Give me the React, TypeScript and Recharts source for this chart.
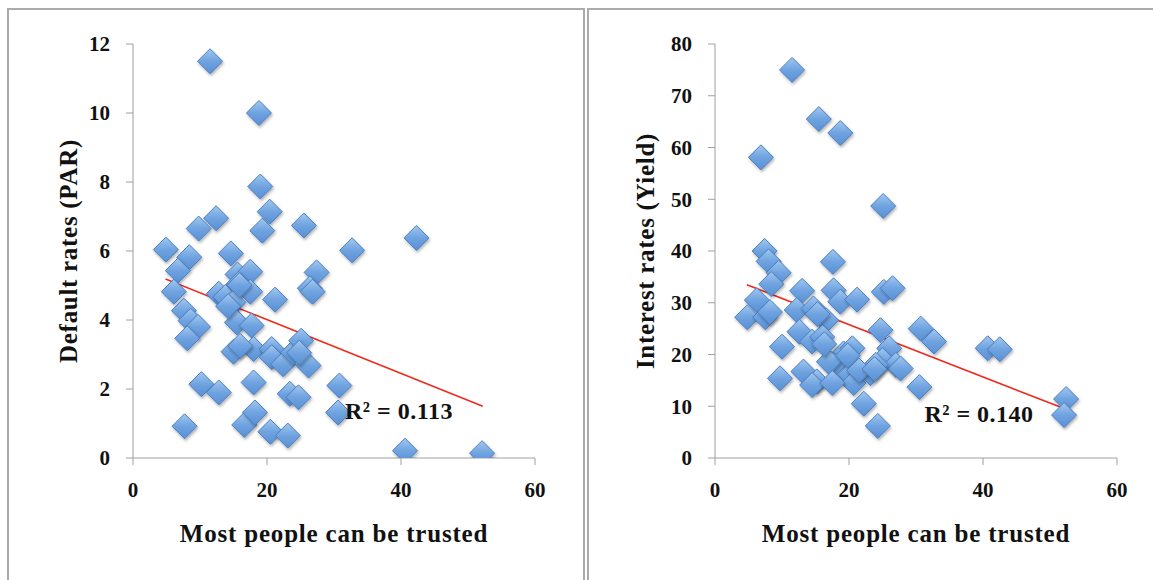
import React from 'react';
import { ScatterChart, Scatter, XAxis, YAxis, ReferenceLine, ReferenceDot } from 'recharts';

// ---- Left panel: trust vs default rates (PAR)
const parTrust = [11.5, 18.8, 19.0, 20.4, 19.3, 12.4, 9.8, 25.5, 4.9, 8.4, 14.6, 32.7, 42.3, 6.7, 27.4, 15.6, 17.5, 6.1, 15.75, 26.4, 26.8, 12.8, 13.8, 17.5, 21.2, 15.0, 7.6, 8.6, 9.7, 15.5, 17.7, 8.1, 15.0, 18.0, 20.7, 20.7, 22.4, 23.9, 25.1, 26.2, 24.8, 10.2, 12.8, 18.0, 30.8, 23.4, 24.7, 30.6, 7.7, 16.6, 18.2, 20.5, 23.1, 40.6, 52.1, 15.9, 14.2, 16.0];
const parValues = [11.5, 10.0, 7.87, 7.14, 6.59, 6.95, 6.65, 6.74, 6.04, 5.82, 5.93, 6.02, 6.38, 5.43, 5.38, 5.32, 5.4, 4.82, 5.04, 4.92, 4.82, 4.76, 4.67, 4.82, 4.59, 4.51, 4.27, 3.98, 3.8, 3.93, 3.84, 3.47, 3.08, 3.16, 3.16, 2.92, 2.72, 3.06, 3.4, 2.68, 3.05, 2.14, 1.9, 2.19, 2.1, 1.86, 1.76, 1.32, 0.92, 0.96, 1.32, 0.76, 0.65, 0.21, 0.14, 5.01, 4.4, 3.25];
const parTrendX = [4.86, 52.2];
const parTrendY = [5.19, 1.5];
const parR2 = 'R² = 0.113';
const parR2Pos = [39.7, 1.35];
const parTicks = [0, 2, 4, 6, 8, 10, 12];

// ---- Right panel: trust vs interest rates (Yield)
const yieldTrust = [11.5, 15.5, 18.7, 6.85, 25.1, 7.4, 8.0, 17.6, 9.5, 8.4, 13.0, 17.7, 18.7, 21.2, 25.2, 26.5, 6.25, 4.8, 7.5, 8.2, 12.2, 14.7, 16.6, 12.6, 14.5, 16.0, 10.0, 24.7, 30.7, 32.7, 40.7, 42.5, 26.0, 25.0, 27.0, 27.7, 19.2, 20.5, 17.7, 17.0, 20.2, 20.7, 23.2, 24.0, 13.2, 15.2, 14.5, 17.5, 9.7, 30.5, 22.2, 24.3, 52.4, 52.1, 15.3, 16.3, 19.8, 21.5, 23.8];
const yieldValues = [75.0, 65.5, 62.8, 58.1, 48.7, 40.0, 38.0, 37.9, 35.8, 33.6, 32.3, 32.4, 30.2, 30.6, 32.1, 32.8, 30.5, 27.2, 27.2, 28.2, 28.6, 28.9, 26.6, 24.4, 22.5, 23.4, 21.5, 24.7, 25.0, 22.5, 21.2, 21.0, 21.2, 18.9, 18.0, 17.3, 20.2, 21.2, 18.0, 18.6, 16.1, 14.5, 16.4, 18.0, 16.7, 14.8, 14.1, 14.5, 15.4, 13.7, 10.5, 6.2, 11.4, 8.3, 27.8, 22.0, 19.8, 16.9, 17.2];
const yieldTrendX = [4.75, 52.4];
const yieldTrendY = [33.5, 9.4];
const yieldR2 = 'R² = 0.140';
const yieldR2Pos = [39.4, 8.5];
const yieldTicks = [0, 10, 20, 30, 40, 50, 60, 70, 80];

const trustTicks = [0, 20, 40, 60];
const xTitle = 'Most people can be trusted';
const parTitle = 'Default rates (PAR)';
const yieldTitle = 'Interest rates (Yield)';

const FONT = '"Liberation Serif", "Times New Roman", serif';
const AXIS = '#a0a0a0';

const zip = (xs: number[], ys: number[]) => xs.map((x, i) => ({ x, y: ys[i] }));

const Diamond = (props: any) => {
  const { cx, cy } = props;
  if (cx == null || cy == null) return null;
  const h = 12.5;
  return (
    <path
      d={`M${cx},${cy - h} L${cx + h},${cy} L${cx},${cy + h} L${cx - h},${cy} Z`}
      fill="url(#diaGrad)"
      stroke="#4a7fc1"
      strokeWidth={1}
      filter="url(#diaShadow)"
    />
  );
};

const tickStyle = { fill: '#111', fontSize: 21, fontWeight: 'bold', fontFamily: FONT };
const titleStyle = { fontFamily: FONT, fontSize: 25, fontWeight: 'bold', fill: '#111', letterSpacing: 0.7 };

const YTitle = (dx: number, text: string) => (props: any) => {
  const vb = props.viewBox;
  const x = vb.x + dx;
  const y = vb.y + vb.height / 2;
  return (
    <text x={x} y={y} transform={`rotate(-90 ${x} ${y})`} textAnchor="middle" dominantBaseline="central"
      style={titleStyle}>
      {text}
    </text>
  );
};

const XTitle = (props: any) => {
  const vb = props.viewBox;
  return (
    <text x={vb.x + vb.width / 2} y={vb.y + 75} textAnchor="middle" dominantBaseline="central"
      style={{ ...titleStyle, letterSpacing: 0.8 }}>
      {xTitle}
    </text>
  );
};

const R2Label = (text: string) => (props: any) => {
  const vb = props.viewBox;
  return (
    <text x={vb.x + vb.width / 2} y={vb.y + vb.height / 2} textAnchor="middle" dominantBaseline="central"
      style={{ fontFamily: FONT, fontSize: 24, fontWeight: 'bold', fill: '#111', letterSpacing: 0.5 }}>
      {text}
    </text>
  );
};

type PanelProps = {
  left: number; width: number; yWidth: number; titleDx: number;
  xs: number[]; ys: number[]; trendX: number[]; trendY: number[];
  yTicks: number[]; yMax: number; yTitle: string; r2: string; r2Pos: number[];
};

const Panel = (p: PanelProps) => (
  <div style={{ position: 'absolute', left: p.left, top: 0 }}>
    <ScatterChart width={p.width} height={580} margin={{ top: 44, right: p.width - p.yWidth - 402, bottom: 62, left: 0 }}>
      <XAxis type="number" dataKey="x" domain={[0, 60]} ticks={trustTicks} interval={0} height={60}
        stroke={AXIS} tickSize={7} tickMargin={17} tick={tickStyle} label={<XTitle />} allowDataOverflow />
      <YAxis type="number" dataKey="y" domain={[0, p.yMax]} ticks={p.yTicks} interval={0} width={p.yWidth}
        stroke={AXIS} tickSize={7} tickMargin={16} tick={tickStyle}
        label={(props: any) => YTitle(p.titleDx, p.yTitle)(props)} allowDataOverflow />
      <Scatter data={zip(p.xs, p.ys)} shape={Diamond} isAnimationActive={false} />
      <ReferenceLine segment={[{ x: p.trendX[0], y: p.trendY[0] }, { x: p.trendX[1], y: p.trendY[1] }]}
        stroke="#ee2a1c" strokeWidth={1.6} ifOverflow="visible" />
      <ReferenceDot x={p.r2Pos[0]} y={p.r2Pos[1]} r={0} fill="none" stroke="none"
        label={R2Label(p.r2)} />
    </ScatterChart>
  </div>
);

export default function App() {
  return (
    <div style={{ position: 'fixed', left: 0, top: 0, width: 1153, height: 580, background: '#fff', overflow: 'hidden' }}>
      <svg width={0} height={0} style={{ position: 'absolute' }}>
        <defs>
          <linearGradient id="diaGrad" x1="0" y1="0" x2="0" y2="1">
            <stop offset="0%" stopColor="#a2c8f0" />
            <stop offset="50%" stopColor="#6fa3e0" />
            <stop offset="100%" stopColor="#5a90d4" />
          </linearGradient>
          <filter id="diaShadow" x="-50%" y="-50%" width="200%" height="200%">
            <feDropShadow dx="1" dy="2" stdDeviation="1.5" floodColor="#000" floodOpacity="0.3" />
          </filter>
        </defs>
      </svg>
      <div style={{ position: 'absolute', left: 7, top: 8, width: 574, height: 600, border: '2px solid #ababab', borderBottom: 'none' }} />
      <div style={{ position: 'absolute', left: 587, top: 8, width: 600, height: 600, border: '2px solid #ababab', borderBottom: 'none', borderRight: 'none' }} />
      <Panel left={0} width={576} yWidth={133} titleDx={68}
        xs={parTrust} ys={parValues} trendX={parTrendX} trendY={parTrendY}
        yTicks={parTicks} yMax={12} yTitle={parTitle} r2={parR2} r2Pos={parR2Pos} />
      <Panel left={585} width={568} yWidth={130} titleDx={60}
        xs={yieldTrust} ys={yieldValues} trendX={yieldTrendX} trendY={yieldTrendY}
        yTicks={yieldTicks} yMax={80} yTitle={yieldTitle} r2={yieldR2} r2Pos={yieldR2Pos} />
    </div>
  );
}
